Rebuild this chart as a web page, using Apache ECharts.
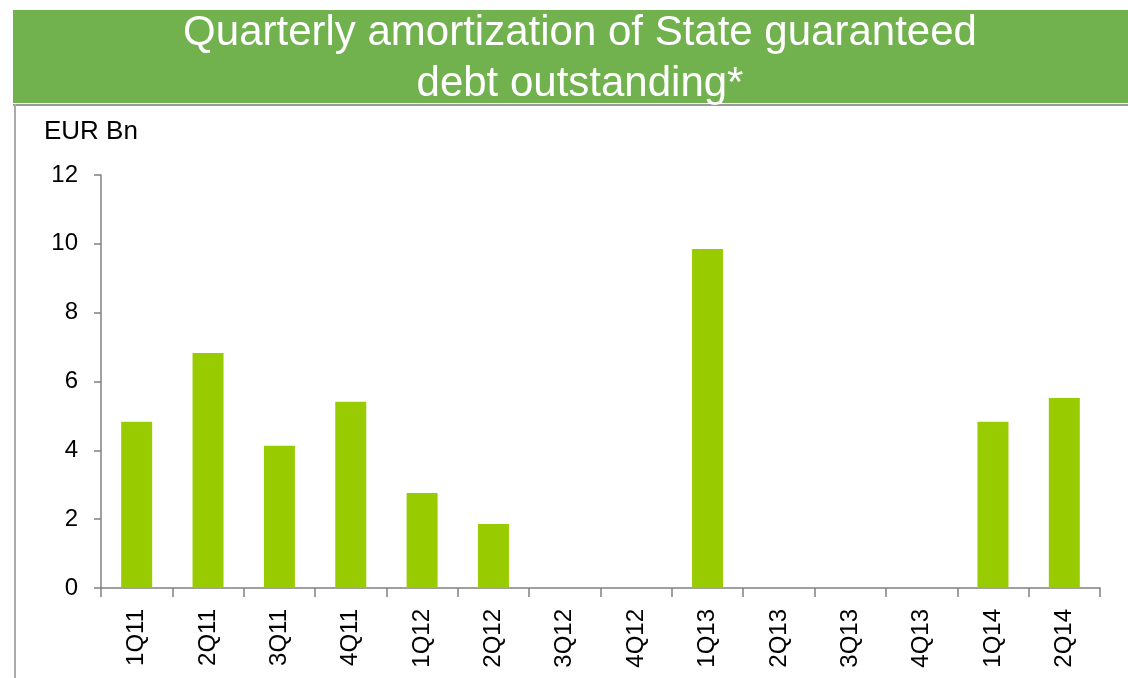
<!DOCTYPE html>
<html>
<head>
<meta charset="utf-8">
<script src="https://cdn.jsdelivr.net/npm/echarts@6/dist/echarts.min.js"></script>
<style>
  html, body { margin: 0; padding: 0; background: #fff; }
  #chart { width: 1128px; height: 678px; }
</style>
</head>
<body>
<div id="chart"></div>
<script>
const categories = ['1Q11', '2Q11', '3Q11', '4Q11', '1Q12', '2Q12', '3Q12', '4Q12', '1Q13', '2Q13', '3Q13', '4Q13', '1Q14', '2Q14'];
const amortization = [4.83, 6.83, 4.13, 5.41, 2.76, 1.86, 0, 0, 9.85, 0, 0, 0, 4.83, 5.52];
const titleLines = ['Quarterly amortization of State guaranteed', 'debt outstanding*'];
const unitLabel = 'EUR Bn';

const font = '"Liberation Sans", Arial, sans-serif';
const chart = echarts.init(document.getElementById('chart'));

chart.setOption({
  animation: false,
  title: {
    text: unitLabel,
    left: 44,
    top: 119,
    padding: 0,
    textStyle: { fontFamily: font, fontSize: 26, fontWeight: 'normal', color: '#000' },
  },
  graphic: [
    {
      type: 'rect',
      shape: { x: 13, y: 10, width: 1115, height: 93 },
      style: { fill: '#71b14e' },
    },
    {
      type: 'line',
      shape: { x1: 13, y1: 105, x2: 1128, y2: 105 },
      style: { stroke: '#999', lineWidth: 2 },
    },
    {
      type: 'line',
      shape: { x1: 15, y1: 104, x2: 15, y2: 678 },
      style: { stroke: '#aaa', lineWidth: 2 },
    },
    {
      type: 'text',
      x: 580,
      y: 8,
      style: {
        text: titleLines.join('\n'),
        fill: '#fff',
        font: '42px ' + font,
        align: 'center',
        verticalAlign: 'top',
        lineHeight: 51,
      },
    },
  ],
  grid: {
    left: 101,
    right: 28,
    top: 175,
    bottom: 90,
    containLabel: false,
  },
  xAxis: {
    type: 'category',
    data: categories,
    boundaryGap: true,
    axisLine: { lineStyle: { color: '#808080', width: 1.5 } },
    axisTick: { show: true, length: 9, alignWithLabel: false, lineStyle: { color: '#808080', width: 1.5 } },
    axisLabel: {
      rotate: 90,
      margin: 21,
      interval: 0,
      fontFamily: font,
      fontSize: 24,
      color: '#000',
    },
  },
  yAxis: {
    type: 'value',
    min: 0,
    max: 12,
    interval: 2,
    splitLine: { show: false },
    axisLine: { show: true, lineStyle: { color: '#808080', width: 1.5 } },
    axisTick: { show: true, length: 7, lineStyle: { color: '#808080', width: 1.5 } },
    axisLabel: {
      margin: 23,
      fontFamily: font,
      fontSize: 24,
      color: '#000',
    },
  },
  series: [
    {
      type: 'bar',
      data: amortization,
      barWidth: 31,
      itemStyle: { color: '#99cc00' },
    },
  ],
});
</script>
</body>
</html>
